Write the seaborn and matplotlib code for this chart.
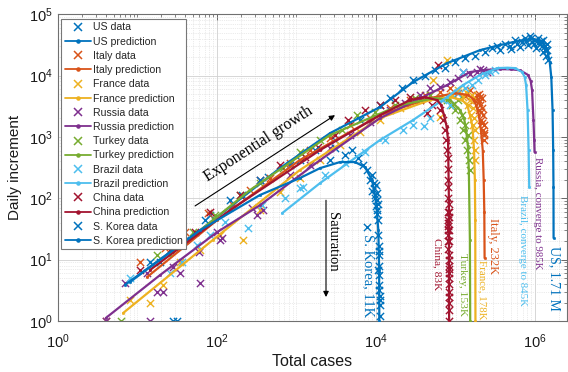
import numpy as np
import matplotlib
matplotlib.use("Agg")
import matplotlib.pyplot as plt
from matplotlib.lines import Line2D
from matplotlib.ticker import LogLocator, NullFormatter, FuncFormatter, FixedLocator
import seaborn as sns

sns.set_theme(style="white")
plt.rcParams['font.family'] = ['Liberation Sans', 'DejaVu Sans']
plt.rcParams['mathtext.fontset'] = 'custom'
plt.rcParams['mathtext.rm'] = 'Liberation Sans'
plt.rcParams['mathtext.it'] = 'Liberation Sans:italic'
plt.rcParams['mathtext.bf'] = 'Liberation Sans:bold'

SERIF = ['Liberation Serif', 'DejaVu Serif']

# ---------------- data ----------------
countries = ["US", "Italy", "France", "Russia", "Turkey", "Brazil", "China", "S. Korea"]
colors = ["#0072BD", "#D95319", "#EDB120", "#7E2F8E", "#77AC30", "#4DBEEE", "#A2142F", "#0072BD"]

us_data_cases = [14.4, 39.5, 81, 207, 438, 1100, 3050, 6300, 11200, 15000, 21300, 29200, 41300, 55200,
                 73000, 98600, 131000, 176000, 236000, 290000, 363000, 420000, 480000, 560000, 600000,
                 686000, 745000, 815000, 870000, 920000, 1000000, 1040000, 1100000, 1150000, 1260000,
                 1270000, 1320000, 1370000, 1400000, 1450000, 1420000,
                 650000, 780000, 960000, 1200000, 1330000, 1230000, 500000, 330000, 900000, 1080000]
us_data_daily = [9.1, 21, 53, 113, 221, 419, 888, 1880, 3300, 4300, 6260, 8460, 9800, 12200,
                 13200, 16500, 19200, 20800, 24000, 28000, 25900, 32300, 30000, 37900, 32300,
                 35000, 40400, 31600, 44000, 35000, 37900, 28000, 40400, 32300, 24000,
                 37900, 30000, 20800, 25900, 17900, 32300,
                 29000, 36000, 33000, 36000, 26000, 30000, 27000, 30500, 41000, 34000]
us_pred_cases = [7, 61, 620, 2640, 11200, 29200, 78200, 203000, 350000, 528000, 700000, 944000,
                 1100000, 1260000, 1370000, 1450000, 1530000, 1600000, 1660000, 1690000, 1705000, 1710000]
us_pred_daily = [3.9, 30, 310, 1150, 3060, 7810, 15900, 25900, 31000, 35000, 37800, 39200,
                 37500, 33700, 28500, 23200, 16500, 9400, 2730, 610, 150, 22.5]

italy_data_cases = [4, 10.8, 22, 39.5, 77, 158, 260, 465, 830, 1470, 2640, 4700, 8400, 15000, 26800,
                    41300, 64000, 85300, 108000, 131000, 152000, 171000, 186000, 198000, 204000,
                    209000, 216000, 223000, 223000, 229000, 229000, 231000,
                    190000, 200000, 212000, 218000, 226000, 214000, 206000, 195000]
italy_data_daily = [1, 9.1, 15.5, 28, 57, 77, 136, 212, 375, 610, 955, 1560, 2020, 2950, 3990,
                    4800, 5330, 6260, 5170, 4630, 5780, 3990, 4800, 2730, 3300,
                    1880, 4290, 1290, 2260, 888, 1560, 1070,
                    4200, 3700, 2500, 1700, 1150, 3000, 4500, 5000]
italy_pred_cases = [13.2, 100, 1100, 11200, 47800, 98600, 144000, 165000, 181000, 196000, 209000,
                    220000, 226000, 230000, 232000]
italy_pred_daily = [5.2, 44, 419, 2260, 4290, 5170, 4800, 4200, 3300, 2300, 1290, 600, 198, 60, 10.6]

france_data_cases = [8, 14.4, 21, 34, 61, 109, 212, 347, 620, 1100, 1980, 3530, 6300, 11200, 20000,
                     35700, 52000, 64000, 78200, 90000, 108000, 124000, 136000, 144000, 152000,
                     157000, 162000, 166000, 166000, 171000, 171000, 174000, 174000, 177000]
france_data_daily = [2.2, 2.0, 3.9, 9.1, 14.3, 25, 21, 64, 126, 213, 419, 735, 1200, 1880, 2950,
                     3990, 8460, 2080, 17900, 4800, 5780, 4450, 5330, 3300, 3990,
                     2260, 4800, 1560, 2950, 888, 2020, 1290, 610, 419]
france_pred_cases = [6.6, 89, 1100, 11200, 47800, 85300, 121000, 140000, 152000, 163000, 171000,
                     175000, 177000, 178000]
france_pred_daily = [1.35, 21, 288, 2020, 3990, 4450, 3990, 3300, 2260, 1500, 610, 200, 44, 1]

russia_data_cases = [4, 14.4, 7, 13.2, 17.6, 21, 28, 34, 61, 59, 100, 116, 109, 275, 317, 380, 830,
                     1470, 2640, 4700, 8400, 15000, 23200, 35700, 47800, 64000, 85300, 108000,
                     124000, 152000, 184000, 203000, 223000, 246000]
russia_data_daily = [1, 1, 4.2, 6.0, 3.0, 3.0, 7.6, 6.0, 4.2, 13.3, 28, 22.5, 21, 69, 53, 64, 238,
                     348, 660, 1070, 1750, 2730, 3530, 4800, 6260, 6400, 7800, 9100,
                     11400, 10500, 11400, 12700, 12200, 11400]
russia_pred_cases = [4.0, 19.2, 100, 347, 1980, 11200, 78200, 152000, 250000, 363000, 500000,
                     648000, 817000, 880000, 917000, 955000, 975000, 985000]
russia_pred_daily = [1.12, 5.6, 28, 77, 419, 2020, 6980, 11400, 12400, 12700, 12600,
                     12200, 10200, 8200, 5780, 1880, 900, 565]

turkey_data_cases = [6.2, 17.6, 30, 50, 94, 195, 347, 680, 1100, 1980, 3700, 5800, 9800, 17300,
                     31000, 47800, 64000, 78200, 90000, 98600, 108000, 114000, 121000, 124000,
                     131000, 131000, 139000, 144000, 148000, 150000]
turkey_data_daily = [1, 11.9, 15.5, 28, 53, 113, 177, 310, 565, 888, 1290, 2260, 2520, 3300,
                     4290, 4800, 4290, 3990, 3300, 2730, 3990, 1880, 2260, 1290,
                     888, 1560, 610, 1070, 419, 288]
turkey_pred_cases = [25.6, 260, 2640, 20000, 55200, 85300, 114000, 128000, 136000, 143000, 147000,
                     151500, 153000]
turkey_pred_daily = [11.9, 136, 1070, 3300, 4290, 3990, 2730, 2000, 1290, 700, 288, 21, 1]

brazil_data_cases = [8.0, 25.6, 36, 56, 81, 126, 246, 370, 720, 1100, 1200, 2300, 4100, 7300, 13000,
                     21900, 29200, 39600, 47800, 69000, 85300, 104000, 131000, 160000, 192000,
                     236000, 272000, 310000, 124000]
brazil_data_daily = [5.0, 6.0, 9.1, 17.3, 25, 41, 33, 77, 101, 146, 152, 238, 375, 565, 888,
                     1290, 1560, 1500, 2020, 3990, 3300, 5170, 6260, 6980, 8460,
                     10200, 11400, 12200, 11400]
brazil_pred_cases = [657, 1980, 11200, 29200, 78200, 124000, 203000, 333000, 450000, 560000, 686000,
                     740000, 771000, 805000, 830000, 845000]
brazil_pred_daily = [57, 177, 887, 1880, 4450, 6980, 10200, 13200, 13400, 13200, 11400,
                     9500, 6980, 2730, 610, 152]

china_data_cases = [10.8, 25.6, 53, 81, 195, 347, 620, 1290, 1850, 3050, 4500, 7300, 11200, 17300,
                    26800, 35700, 44300, 50800, 60000, 64000, 69000, 73000, 76000, 78200, 79500,
                    80000, 80300, 80500, 80600, 80700, 80800, 80900, 81000, 81100, 81200, 81300,
                    81500, 81700, 81800, 81900, 82000, 82200, 82300, 82400, 82500, 82600, 82700,
                    82800, 82900, 82950, 83000, 82850, 82750, 83000]
china_data_daily = [6.8, 14.3, 28, 59, 113, 198, 348, 470, 685, 1070, 1880, 2730, 3300, 3990,
                    4450, 3990, 2450, 3300, 14700, 2730, 1880, 1290, 888, 610, 450,
                    300, 200, 150, 100, 60, 40, 25, 45, 30, 20, 15,
                    35, 60, 80, 50, 30, 20, 12, 8, 5, 3, 6,
                    10, 4, 2, 1, 1.5, 2.5, 7]
china_pred_cases = [14.4, 146, 1980, 11200, 26800, 41300, 58500, 66000, 71600, 77000, 80500,
                    82500, 83000]
china_pred_daily = [6.8, 64, 610, 2260, 3990, 4450, 3970, 3300, 2260, 1500, 888, 93, 1]

korea_data_cases = [28, 31, 19, 36, 70, 146, 347, 830, 1700, 2640, 3050, 4070, 5000, 5950, 6850,
                    7700, 8400, 8900, 9500, 9800, 10000, 10300, 10300, 10600, 7700, 10700, 10800,
                    10900, 11000, 11000, 11050, 11100, 11100, 11150, 11200, 10900, 10700, 11000,
                    9000, 9300, 9700, 10100, 10400, 10500, 10200]
korea_data_daily = [1, 1, 9.1, 22.5, 44, 93, 198, 348, 610, 419, 660, 510, 610, 450, 348,
                    290, 198, 240, 146, 113, 164, 93, 64, 44, 34, 25, 17,
                    12, 8, 5.6, 3.9, 2.6, 1.8, 1.2, 2.2, 3.2, 6.7, 14,
                    130, 180, 100, 75, 55, 80, 120]
korea_pred_cases = [8.0, 61, 347, 1100, 1980, 3520, 5440, 7270, 8910, 10000, 10700, 10950, 11000]
korea_pred_daily = [4.3, 30, 113, 213, 310, 389, 389, 322, 198, 93, 30, 6.8, 1]

series = [
    (us_data_cases, us_data_daily, us_pred_cases, us_pred_daily),
    (italy_data_cases, italy_data_daily, italy_pred_cases, italy_pred_daily),
    (france_data_cases, france_data_daily, france_pred_cases, france_pred_daily),
    (russia_data_cases, russia_data_daily, russia_pred_cases, russia_pred_daily),
    (turkey_data_cases, turkey_data_daily, turkey_pred_cases, turkey_pred_daily),
    (brazil_data_cases, brazil_data_daily, brazil_pred_cases, brazil_pred_daily),
    (china_data_cases, china_data_daily, china_pred_cases, china_pred_daily),
    (korea_data_cases, korea_data_daily, korea_pred_cases, korea_pred_daily),
]

end_labels = ["S. Korea, 11K", "China, 83K", "Turkey, 153K", "France, 178K", "Italy, 232K",
              "Brazil, converge to 845K", "Russia, converge to 985K", "US, 1.71 M"]
end_label_cases = [7900, 58000, 124000, 216000, 293000, 686000, 1.07e6, 1.75e6]
end_label_daily = [5.6, 8.5, 3.86, 3.3, 16.7, 14.3, 57, 5.0]
end_label_colors = ["#0072BD", "#A2142F", "#77AC30", "#EDB120", "#D95319", "#4DBEEE", "#7E2F8E", "#0072BD"]
end_label_sizes = [10.5, 8.2, 8.2, 7.8, 9, 7.9, 7.8, 10]

# ---------------- figure ----------------
fig = plt.figure(figsize=(5.68, 3.72), dpi=100)
ax = fig.add_axes([0.102, 0.137, 0.896, 0.825])
ax.set_xscale('log')
ax.set_yscale('log')

for (dc, dd, pc, pdv), c in zip(series, colors):
    sns.scatterplot(x=dc, y=dd, marker='x', s=27, color=c, linewidth=1.0, ax=ax,
                    legend=False, zorder=2)
    sns.lineplot(x=pc, y=pdv, color=c, lw=1.6, marker='.', markersize=3.5,
                 markeredgecolor=c, markeredgewidth=0.4, sort=False, estimator=None,
                 ax=ax, legend=False, zorder=3)

ax.set_xlim(1, 10 ** 6.4)
ax.set_ylim(1, 1e5)

fmt = FuncFormatter(lambda v, p: r'$10^{%d}$' % int(round(np.log10(v))))
ax.xaxis.set_major_locator(FixedLocator([1, 1e2, 1e4, 1e6]))
ax.xaxis.set_major_formatter(fmt)
ax.xaxis.set_minor_locator(LogLocator(base=10, subs=np.arange(1, 10), numticks=60))
ax.xaxis.set_minor_formatter(NullFormatter())
ax.yaxis.set_major_locator(FixedLocator([1, 1e1, 1e2, 1e3, 1e4, 1e5]))
ax.yaxis.set_major_formatter(fmt)
ax.yaxis.set_minor_locator(LogLocator(base=10, subs=np.arange(2, 10), numticks=60))
ax.yaxis.set_minor_formatter(NullFormatter())

ax.grid(True, which='major', color='#d0d0d0', lw=0.6, ls='-', zorder=0)
ax.grid(True, which='minor', color='#d8d8d8', lw=0.5, ls=':', zorder=0)
ax.set_axisbelow(True)
ax.tick_params(which='both', direction='in', top=True, right=True, color='#555555',
               labelsize=10.5, labelcolor='#1a1a1a')
ax.tick_params(axis='x', which='both', pad=8)
ax.tick_params(axis='y', which='both', pad=4)
ax.tick_params(which='major', length=4, width=0.6)
ax.tick_params(which='minor', length=2, width=0.5)
for sp in ax.spines.values():
    sp.set_color('#707070')
    sp.set_linewidth(0.8)

ax.set_xlabel('Total cases', fontsize=11.5, color='#1a1a1a', labelpad=2)
ax.set_ylabel('Daily increment', fontsize=11, color='#1a1a1a', labelpad=5)

# annotations
ax.annotate('', xy=(3050, 2260), xytext=(53, 75),
            arrowprops=dict(arrowstyle='-|>', color='black', lw=0.8, mutation_scale=8,
                            shrinkA=0, shrinkB=0))
ax.text(330, 765, 'Exponential growth', rotation=33, rotation_mode='anchor',
        ha='center', va='center', fontsize=11.5, family=SERIF, color='black')
ax.annotate('', xy=(2350, 2.46), xytext=(2350, 93),
            arrowprops=dict(arrowstyle='-|>', color='black', lw=0.8, mutation_scale=8,
                            shrinkA=0, shrinkB=0))
ax.text(2800, 19.3, 'Saturation', rotation=270, ha='center', va='center',
        fontsize=10.5, family=SERIF, color='black')

for t, xv, yv, c, fs in zip(end_labels, end_label_cases, end_label_daily, end_label_colors, end_label_sizes):
    ax.text(xv, yv, t, rotation=270, ha='center', va='center', fontsize=fs,
            family=SERIF, color=c)

# legend
handles, labels = [], []
for name, c in zip(countries, colors):
    handles.append(Line2D([], [], ls='none', marker='x', color=c, markersize=5.5, mew=1.1))
    labels.append(f"{name} data")
    handles.append(Line2D([], [], color=c, lw=1.3, marker='.', markersize=4.5))
    labels.append(f"{name} prediction")
leg = ax.legend(handles, labels, loc='upper left', bbox_to_anchor=(0.006, 0.985),
                borderaxespad=0, fontsize=7.6, frameon=True, fancybox=False,
                edgecolor='#777777', framealpha=1, labelspacing=0.4, handlelength=2.5,
                handletextpad=0.15, borderpad=0.35, numpoints=1)
leg.get_frame().set_linewidth(0.8)
leg.set_zorder(10)

fig.savefig('out.png', dpi=100)
